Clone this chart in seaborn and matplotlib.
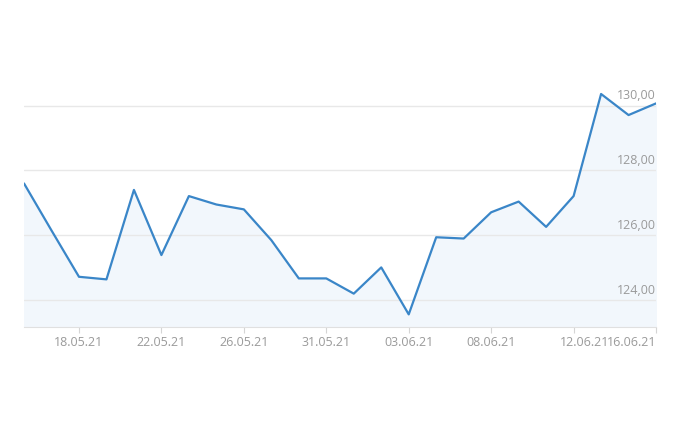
import pandas as pd
import seaborn as sns
import matplotlib.pyplot as plt
import matplotlib.transforms as mtransforms

# price series, one value per point
prices = [127.60, 126.15, 124.72, 124.64, 127.40, 125.39, 127.21, 126.95,
          126.80, 125.85, 124.67, 124.67, 124.20, 125.01, 123.56, 125.94,
          125.90, 126.71, 127.04, 126.26, 127.21, 130.36, 129.71, 130.07]
tick_pos = [2, 5, 8, 11, 14, 17, 20, 23]
tick_labels = ["18.05.21", "22.05.21", "26.05.21", "31.05.21",
               "03.06.21", "08.06.21", "12.06.21", "16.06.21"]
y_ticks = [124, 126, 128, 130]

df = pd.DataFrame({"idx": range(len(prices)), "price": prices})

sns.set_style("white")
plt.rcParams["font.family"] = ["Open Sans", "DejaVu Sans"]

fig = plt.figure(figsize=(7, 4.37), dpi=100)
ax = fig.add_axes([0.0343, 0.2524, 0.9029, 0.58])

line_color = "#3a86c8"
sns.lineplot(data=df, x="idx", y="price", ax=ax, color=line_color, linewidth=1.6)
ymin, ymax = 123.18, 131.0
ax.fill_between(df["idx"], df["price"], ymin, color="#f2f7fc", zorder=0)

ax.set_xlim(0, len(prices) - 1)
ax.set_ylim(ymin, ymax)

# horizontal grid
for v in y_ticks:
    ax.axhline(v, color="#e8e8e8", linewidth=1, zorder=0.5)
    ax.text(1.0, v + 0.1, f"{v:.2f}".replace(".", ","), transform=ax.get_yaxis_transform(),
            ha="right", va="bottom", fontsize=9, color="#9a9a9a")

ax.set_yticks([])
ax.set_xticks(tick_pos)
ax.set_xticklabels(tick_labels, fontsize=9, color="#9a9a9a")
ax.tick_params(axis="x", length=4, color="#d5d5d5", pad=3, bottom=True)
labels = ax.get_xticklabels()
labels[-1].set_ha("right")
labels[-2].set_transform(labels[-2].get_transform() +
                         mtransforms.ScaledTranslation(0.11, 0, fig.dpi_scale_trans))

for s in ["top", "left", "right"]:
    ax.spines[s].set_visible(False)
ax.spines["bottom"].set_color("#e0e0e0")
ax.set_xlabel("")
ax.set_ylabel("")

fig.savefig("out.png", dpi=100)
